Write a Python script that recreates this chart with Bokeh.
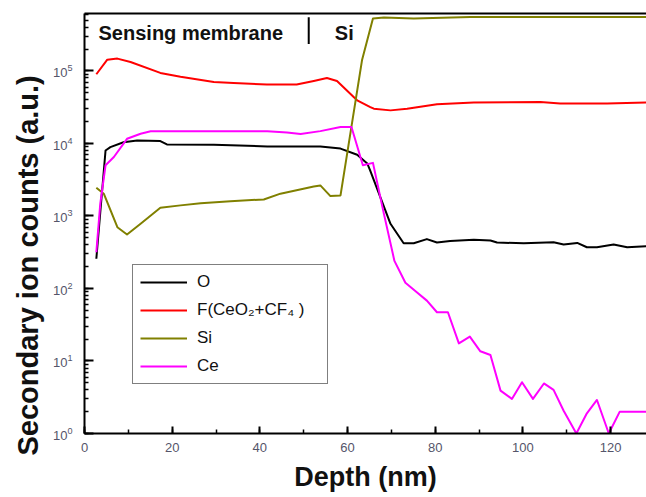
from bokeh.plotting import figure
from bokeh.models import (Legend, LegendItem, LinearAxis, SingleIntervalTicker,
                          Label, LogTicker, FixedTicker, Title)
from bokeh.embed import file_html
from bokeh.resources import INLINE

# ---- data ----
o_depth = [2.7, 4.8, 5.9, 8.9, 12.0, 17.3, 18.8, 29.5, 41.7, 53.8, 58.4, 62.2, 64.5,
           65.2, 67.5, 69.8, 72.8, 75.1, 78.1, 80.4, 83.4, 88.8, 92.6, 94.1, 100.2,
           107.0, 109.3, 112.4, 114.6, 116.9, 120.7, 123.8, 128.2]
o_counts = [257, 8000, 8900, 10400, 11000, 10800, 9700, 9600, 9100, 9100, 8500, 7000, 5300,
            4200, 1800, 780, 420, 420, 480, 430, 450, 470, 460, 430, 420,
            435, 405, 425, 370, 370, 405, 370, 383]

f_depth = [2.7, 5.2, 7.5, 10.5, 17.3, 21.9, 29.5, 34.0, 41.6, 48.4, 52.3, 55.3, 57.6,
           61.4, 62.2, 65.2, 66.0, 69.8, 73.6, 80.4, 88.8, 104.0, 108.5, 119.2, 128.2]
f_counts = [90000, 143000, 148000, 133000, 94000, 83000, 70500, 68200, 64900, 64900, 72800,
            80000, 72800, 43800, 39400, 31800, 30200, 28600, 30200, 34700, 36600, 37300,
            35500, 35500, 36600]

si_depth = [2.7, 4.4, 7.5, 9.7, 12.8, 17.3, 21.9, 26.5, 33.3, 40.9, 44.7, 52.3, 53.8,
            56.1, 58.4, 63.3, 65.8, 68.3, 75.1, 88.0, 128.2]
si_counts = [2450, 2030, 700, 555, 780, 1300, 1400, 1500, 1600, 1690, 2030, 2550, 2640,
             1880, 1920, 140000, 530000, 546000, 530000, 556000, 556000]

ce_depth = [2.7, 3.6, 4.8, 6.7, 9.7, 12.8, 15.1, 21.9, 41.7, 46.2, 49.3, 53.8, 58.4,
            60.9, 63.5, 65.8, 68.3, 70.7, 73.2, 75.8, 78.1, 80.4, 82.9, 85.4, 87.9,
            90.3, 92.6, 94.9, 97.5, 99.8, 102.3, 104.8, 107.0, 109.3, 112.2, 114.6,
            116.9, 119.6, 122.1, 128.2]
ce_counts = [316, 1480, 5000, 6500, 11600, 13600, 14700, 14700, 14700, 14200, 13500, 14800,
             16900, 16900, 5000, 5400, 1070, 240, 120, 89, 68, 47, 47, 17.5, 21.7,
             13.6, 12.1, 3.9, 3.0, 5.1, 3.0, 4.9, 4.0, 2.06, 1.0, 1.9,
             2.9, 1.0, 2.0, 2.0]

series_names = ["O", "F(CeO\u2082+CF\u2084 )", "Si", "Ce"]
series_colors = ["#000000", "#ff0000", "#808000", "#ff00ff"]

x_ticks_interval = 20
FONT = "Liberation Sans"

p = figure(width=646, height=497, y_axis_type="log",
           x_range=(0, 128.2), y_range=(1, 6.2e5),
           output_backend="svg", toolbar_location=None,
           min_border_left=84, min_border_right=0, min_border_top=13, min_border_bottom=64)
p.background_fill_color = "white"
p.border_fill_color = "white"
p.outline_line_color = None
p.xgrid.visible = False
p.ygrid.visible = False

renderers = []
for xs, ys, c in [(o_depth, o_counts, series_colors[0]), (f_depth, f_counts, series_colors[1]),
                  (si_depth, si_counts, series_colors[2]), (ce_depth, ce_counts, series_colors[3])]:
    r = p.line(xs, ys, line_color=c, line_width=2, line_join="round")
    renderers.append(r)

# x axis
xa = p.xaxis[0]
xa.ticker = SingleIntervalTicker(interval=x_ticks_interval, num_minor_ticks=2)
xa.axis_label = "Depth (nm)"
# y axis
ya = p.yaxis[0]
ya.ticker = LogTicker(num_minor_ticks=10)

for ax in (xa, ya):
    ax.axis_line_width = 2
    ax.axis_line_color = "black"
    ax.major_tick_in = 7
    ax.major_tick_out = 0
    ax.minor_tick_in = 4
    ax.minor_tick_out = 0
    ax.major_tick_line_width = 2
    ax.minor_tick_line_width = 1.5
    ax.major_label_text_font = FONT
    ax.major_label_text_font_size = "13px"
    ax.major_label_text_color = "#55556a"
    ax.axis_label_text_font = FONT
    ax.axis_label_text_font_style = "bold"
    ax.axis_label_text_font_size = "27px"
    ax.axis_label_text_color = "#111111"
xa.major_label_standoff = 9
xa.axis_label_standoff = 7
ya.major_label_standoff = 12
ya.major_tick_in = 9

top = LinearAxis(axis_line_width=2, axis_line_color="black", ticker=FixedTicker(ticks=[]),
                 major_tick_line_color=None, minor_tick_line_color=None,
                 major_label_standoff=0)
p.add_layout(top, "above")

# y axis title (starts below the frame bottom, as in the reference)
ytitle = Title(text="Secondary ion counts (a.u.)", text_font=FONT,
               text_font_size="29px", text_font_style="bold", text_color="#111111",
               align="left", offset=-22, standoff=12)
p.add_layout(ytitle, "left")

# annotations at top
p.add_layout(Label(x=3.2, y=3.3e5, text="Sensing membrane", text_font=FONT,
                   text_font_size="20px", text_font_style="bold", text_color="#111111",
                   text_baseline="middle"))
p.add_layout(Label(x=57.1, y=3.3e5, text="Si", text_font=FONT,
                   text_font_size="20px", text_font_style="bold", text_color="#111111",
                   text_baseline="middle"))
p.segment(x0=[51.15], y0=[5.5e5], x1=[51.15], y1=[2.35e5], line_color="black", line_width=2)

legend = Legend(items=[LegendItem(label=n, renderers=[r]) for n, r in zip(series_names, renderers)],
                location=(48, 49))
legend.border_line_color = "black"
legend.border_line_width = 1.5
legend.background_fill_color = "white"
legend.background_fill_alpha = 1
legend.label_text_font = FONT
legend.label_text_font_size = "17px"
legend.label_text_color = "#111111"
legend.glyph_width = 47
legend.glyph_height = 20
legend.label_height = 20
legend.label_width = 123
legend.label_standoff = 10
legend.spacing = 8
legend.padding = 7
legend.margin = 0
p.add_layout(legend)

open("out.html", "w").write(file_html(p, INLINE))
